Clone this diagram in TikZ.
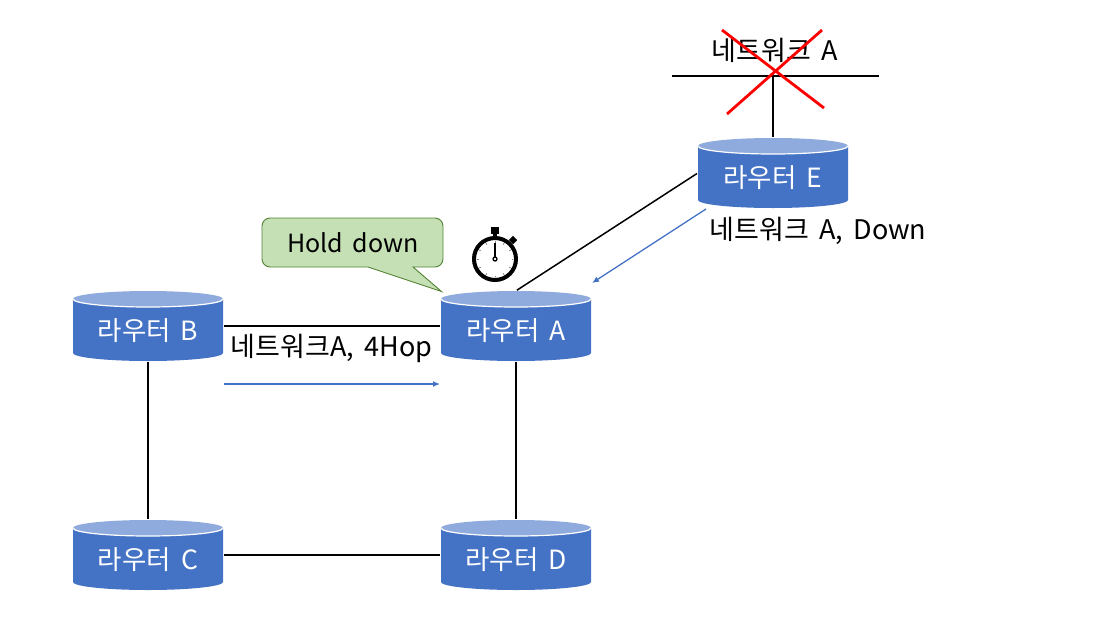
\documentclass[tikz,border=0pt]{standalone}
\usepackage{fontspec}
\setmainfont[WordSpace=1.7]{Noto Sans CJK KR}
\usetikzlibrary{arrows.meta}
\definecolor{blue1}{HTML}{4472C4}
\definecolor{blue2}{HTML}{8FAADC}
\definecolor{calloutfill}{HTML}{C5E0B4}
\definecolor{calloutline}{HTML}{548235}
\tikzset{x=1pt,y=-1pt,
 routerbox/.style={text=white,font=\fontsize{26.5}{30}\selectfont,inner sep=0pt,minimum width=150pt,minimum height=70pt},
 lbl/.style={text=black,font=\fontsize{27}{30}\selectfont,inner sep=0pt},
 holdlbl/.style={text=black,font=\fontsize{25}{30}\selectfont,inner sep=0pt},
 link/.style={draw=black,line width=1.5pt},
 msg/.style={draw=blue1,line width=1.3pt,-{Latex[length=7pt,width=6pt]}},
 pics/router/.style={code={
  \fill[blue1] (-75,-27) -- (-75,27) arc[start angle=180,end angle=0,x radius=75,y radius=8] -- (75,-27) -- cycle;
  \fill[blue2] (0,-27) ellipse[x radius=75,y radius=8];
  \draw[white,line width=1.2pt] (-75,-27) arc[start angle=180,end angle=0,x radius=75,y radius=8];
 }}}
\newcommand{\routerat}[4]{\pic at (#2,#3) {router};\node[routerbox] (#1) at (#2,#3) {\raisebox{-14pt}[0pt][0pt]{#4}};}
\begin{document}
\begin{tikzpicture}
\useasboundingbox (0,0) rectangle (1120,627);
\routerat{b}{148}{326}{라우터 B}
\routerat{a}{516}{326}{라우터 A}
\routerat{c}{148}{555}{라우터 C}
\routerat{d}{516}{555}{라우터 D}
\routerat{e}{773}{173}{라우터 E}
% connectors
\draw[link,shorten <=1pt,shorten >=1pt] (b.east) -- (a.west);
\draw[link,shorten <=1pt,shorten >=1pt] (c.east) -- (d.west);
\draw[link,shorten <=1pt,shorten >=1pt] (b.south) -- (c.north);
\draw[link,shorten <=1pt,shorten >=1pt] (a.south) -- (d.north);
\draw[link,shorten <=1pt,shorten >=1pt] (e.west) -- (a.north);
% network
\coordinate (netl) at (672,76);
\coordinate (netr) at (879,76);
\coordinate (netm) at (773,76);
\draw[link] (netl) -- (netr);
\draw[link,shorten <=1pt] (e.north) -- (netm);
\node[lbl] (nettext) at (775,50) {네트워크 A};
\coordinate (x1a) at (722,30); \coordinate (x1b) at (824,108);
\coordinate (x2a) at (822,30); \coordinate (x2b) at (727,114);
\draw[red,line width=2.8pt] (x1a) -- (x1b);
\draw[red,line width=2.8pt] (x2a) -- (x2b);
% messages
\coordinate (m1a) at (224,384); \coordinate (m1b) at (440,384);
\draw[msg] (m1a) -- (m1b);
\coordinate (m2a) at (706,209); \coordinate (m2b) at (592,283);
\draw[msg] (m2a) -- (m2b);
\node[lbl] (m1text) at (331.5,348) {네트워크A, 4Hop};
\node[lbl] (m2text) at (818,231) {네트워크 A, Down};
% callout
\draw[fill=calloutfill,draw=calloutline,line width=0.9pt,rounded corners=0pt]
  (270,218) -- (435,218) arc[start angle=-90,end angle=0,radius=8] -- (443,259)
  arc[start angle=0,end angle=90,radius=8] -- (413,267) -- (441.5,291.5) -- (368,267) -- (270,267)
  arc[start angle=90,end angle=180,radius=8] -- (262,226) arc[start angle=180,end angle=270,radius=8] -- cycle;
\node[holdlbl] (hold) at (353,243) {Hold down};
% stopwatch
\fill[black] (491,227) rectangle (499,234);
\fill[black] (493,234) rectangle (497,238);
\fill[black,rotate around={45:(513,240)}] (510,237) rectangle (516,243);
\fill[white] (495,259) circle[radius=22];
\foreach \t in {0,30,...,330}{
  \draw[gray,line width=0.8pt] (495,259) ++(\t:16.5) -- ++(\t:1.6);
}
\draw[black,line width=4pt] (495,259) circle[radius=21];
\draw[black,line width=1.8pt] (495,243) -- (495,258);
\draw[black,fill=white,line width=1.3pt] (495,259) circle[radius=2];
\end{tikzpicture}
\end{document}
